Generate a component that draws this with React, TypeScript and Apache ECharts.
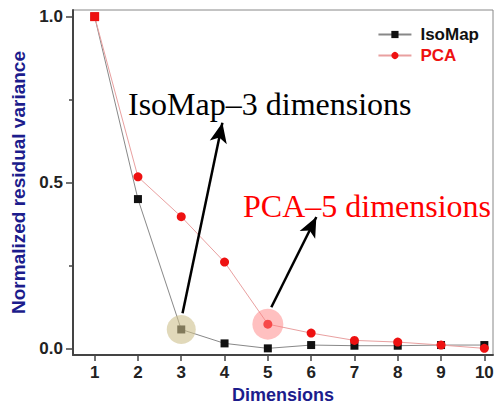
import React, { useEffect, useRef } from "react";
import * as echarts from "echarts";

const dimensions = [1, 2, 3, 4, 5, 6, 7, 8, 9, 10];
const isoMapValues = [1.0, 0.45, 0.057, 0.015, 0.0, 0.01, 0.008, 0.008, 0.01, 0.01];
const pcaValues = [1.0, 0.517, 0.397, 0.26, 0.073, 0.046, 0.024, 0.019, 0.01, 0.0];
const yTickLabels = [0, 0.5, 1.0];
const yMinorTicks = [0.25, 0.75];
const isoMapNote = "IsoMap–3 dimensions";
const pcaNote = "PCA–5 dimensions";
const isoArrow = [[3.03, 0.106], [3.95, 0.68]];
const pcaArrow = [[5.08, 0.124], [6.12, 0.396]];

const BLUE = "#1c1c8c";
const RED = "#ee1111";

export default function App() {
  const ref = useRef<HTMLDivElement>(null);
  useEffect(() => {
    if (!ref.current) return;
    const chart = echarts.init(ref.current, null, { renderer: "svg" });
    const labelFont = { fontFamily: "Liberation Sans, Arial, sans-serif", fontWeight: "bold", fontSize: 17, color: "#222" };
    chart.setOption({
      animation: false,
      grid: {
        left: 73, right: 5, top: 10, bottom: 49,
        outerBoundsMode: "none", containLabel: false,
        show: true, borderColor: "#888", borderWidth: 1, backgroundColor: "transparent",
      },
      legend: {
        orient: "vertical",
        right: 14,
        top: 21,
        itemWidth: 33,
        itemHeight: 9,
        itemGap: 4,
        data: [
          { name: "IsoMap", textStyle: { color: "#111" } },
          { name: "PCA", textStyle: { color: RED } },
        ],
        textStyle: { fontFamily: "Liberation Sans, Arial, sans-serif", fontWeight: "bold", fontSize: 17, padding: [0, 0, 0, 4] },
      },
      xAxis: {
        type: "value",
        min: 0.5,
        max: 10.2,
        name: "Dimensions",
        nameLocation: "middle",
        nameGap: 30,
        nameTextStyle: { fontFamily: "Liberation Sans, Arial, sans-serif", fontWeight: "bold", fontSize: 18, color: BLUE, lineHeight: 18 },
        axisLine: { show: true, onZero: false, lineStyle: { color: "#444", width: 2 } },
        axisTick: { show: true, inside: false, length: 6, customValues: dimensions, lineStyle: { color: "#444", width: 1.5 } },
        axisLabel: { ...labelFont, margin: 9, customValues: dimensions, formatter: (v: number) => String(v) },
        splitLine: { show: false },
      },
      yAxis: [
        {
          type: "value",
          min: -0.02,
          max: 1.02,
          name: "Normalized residual variance",
          nameLocation: "middle",
          nameGap: 44,
          nameTextStyle: { fontFamily: "Liberation Sans, Arial, sans-serif", fontWeight: "bold", fontSize: 19, color: BLUE },
          axisLine: { show: true, onZero: false, lineStyle: { color: "#444", width: 2 } },
          axisTick: { show: true, length: 7, customValues: yTickLabels, lineStyle: { color: "#444", width: 1.5 } },
          axisLabel: { ...labelFont, margin: 10, customValues: yTickLabels, formatter: (v: number) => v.toFixed(1) },
          splitLine: { show: false },
        },
        {
          type: "value",
          min: -0.02,
          max: 1.02,
          position: "left",
          axisLine: { show: false },
          axisTick: { show: true, length: 4, customValues: yMinorTicks, lineStyle: { color: "#444", width: 1.5 } },
          axisLabel: { show: false },
          splitLine: { show: false },
        },
      ],
      series: [
        {
          name: "IsoMap",
          type: "line",
          data: dimensions.map((d, i) => [d, isoMapValues[i]]),
          symbol: "rect",
          symbolSize: 8,
          itemStyle: { color: "#111" },
          lineStyle: { color: "#888", width: 1 },
          z: 3,
          markPoint: {
            symbol: "circle",
            symbolSize: 29,
            silent: true,
            itemStyle: { color: "rgba(205,192,140,0.6)" },
            label: { show: false },
            data: [{ coord: [dimensions[2], isoMapValues[2]] }],
          },
          markLine: {
            silent: true,
            symbol: ["none", "arrow"],
            symbolSize: [13, 20],
            label: { show: false },
            lineStyle: { color: "#000", width: 2.5, type: "solid" },
            data: [
              [{ coord: isoArrow[0] }, { coord: isoArrow[1] }],
              [{ coord: pcaArrow[0] }, { coord: pcaArrow[1] }],
            ],
          },
        },
        {
          name: "PCA",
          type: "line",
          data: dimensions.map((d, i) => (i === 0 ? { value: [d, pcaValues[i]], symbol: "rect", symbolSize: 9 } : [d, pcaValues[i]])),
          symbol: "circle",
          symbolSize: 9,
          itemStyle: { color: RED },
          lineStyle: { color: "#e9a0a0", width: 1 },
          z: 4,
          markPoint: {
            symbol: "circle",
            symbolSize: 31,
            silent: true,
            itemStyle: { color: "rgba(255,130,130,0.5)" },
            label: { show: false },
            data: [{ coord: [dimensions[4], pcaValues[4]] }],
          },
        },
      ],
      graphic: [
        {
          type: "text",
          left: 128,
          top: 88,
          style: { text: isoMapNote, fill: "#000", font: "32px 'Liberation Serif', 'Times New Roman', serif" },
        },
        {
          type: "text",
          left: 243,
          top: 190,
          style: { text: pcaNote, fill: "#ff0000", font: "32px 'Liberation Serif', 'Times New Roman', serif" },
        },
      ],
    });
    return () => chart.dispose();
  }, []);
  return <div ref={ref} style={{ width: 498, height: 404, position: "absolute", left: 0, top: 0 }} />;
}
